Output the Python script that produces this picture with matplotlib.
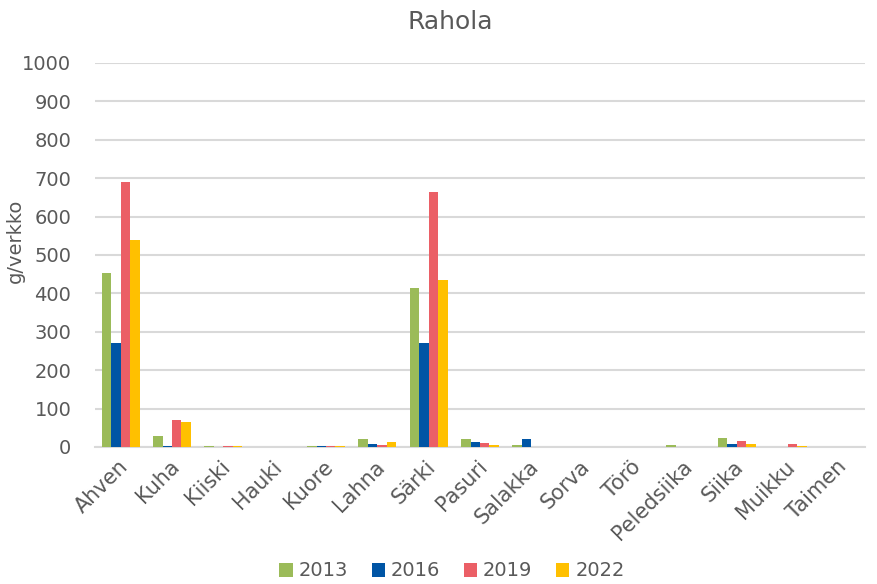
import matplotlib
matplotlib.use("Agg")
import matplotlib.pyplot as plt
import matplotlib.transforms as mtransforms
import numpy as np

categories = ["Ahven", "Kuha", "Kiiski", "Hauki", "Kuore", "Lahna", "Särki", "Pasuri",
              "Salakka", "Sorva", "Törö", "Peledsiika", "Siika", "Muikku", "Taimen"]
years = ["2013", "2016", "2019", "2022"]
v2013 = [453, 28, 1.5, 0, 2, 21, 414, 20, 6, 0, 0, 6, 23, 0, 0]
v2016 = [271, 1.5, 0, 0, 2, 8, 271, 13, 20, 0, 0, 0, 8, 0, 0]
v2019 = [690, 70, 1.5, 0, 2, 5, 664, 10, 0, 0, 0, 0, 15, 8, 0]
v2022 = [539, 65, 1.5, 0, 2, 13, 434, 6, 1, 0, 0, 0, 7, 3, 0]
colors = ["#9BBB59", "#0055A5", "#EB5F66", "#FFC000"]

txt = "#595959"
plt.rcParams['font.family'] = ['DejaVu Sans']

fig = plt.figure(figsize=(8.78, 5.84), dpi=100)
ax = fig.add_axes([95/878, 1 - 447/584, 770/878, 384/584])

x = np.arange(len(categories))
w = 0.185
series = [v2013, v2016, v2019, v2022]
for i, (vals, c, yr) in enumerate(zip(series, colors, years)):
    ax.bar(x + (i - 1.5) * w, vals, width=w, color=c, label=yr, zorder=3)

ax.set_xlim(-0.5, len(categories) - 0.5)
ax.set_ylim(0, 1000)
ax.set_yticks(np.arange(0, 1001, 100))
ax.yaxis.grid(True, color="#D9D9D9", linewidth=1.5, zorder=0)
for s in ["top", "right", "left"]:
    ax.spines[s].set_visible(False)
ax.spines["bottom"].set_color("#D9D9D9")
ax.spines["bottom"].set_linewidth(1.5)
ax.tick_params(axis="y", length=0, colors=txt, labelsize=14, pad=17)
ax.tick_params(axis="x", length=0, colors=txt, labelsize=15, pad=12)
ax.set_xticks(x)
ax.set_xticklabels(categories, rotation=45, ha="right", va="center", rotation_mode="anchor")
offset = mtransforms.ScaledTranslation(4/100, 0, fig.dpi_scale_trans)
for lbl in ax.get_xticklabels():
    lbl.set_transform(lbl.get_transform() + offset)
ax.set_ylabel("g/verkko", color=txt, fontsize=14)
ax.yaxis.set_label_coords(-70/770, 0.536)
fig.text(450/878, 1 - 22/584, "Rahola", color=txt, fontsize=18, ha="center", va="center")

leg = fig.legend(loc="center", bbox_to_anchor=(452/878, 1 - 571/584), ncol=4, frameon=False,
                 fontsize=14, handlelength=0.7, handleheight=0.7, handletextpad=0.3,
                 columnspacing=1.2)
for t in leg.get_texts():
    t.set_color(txt)

fig.savefig("out.png", dpi=100)
